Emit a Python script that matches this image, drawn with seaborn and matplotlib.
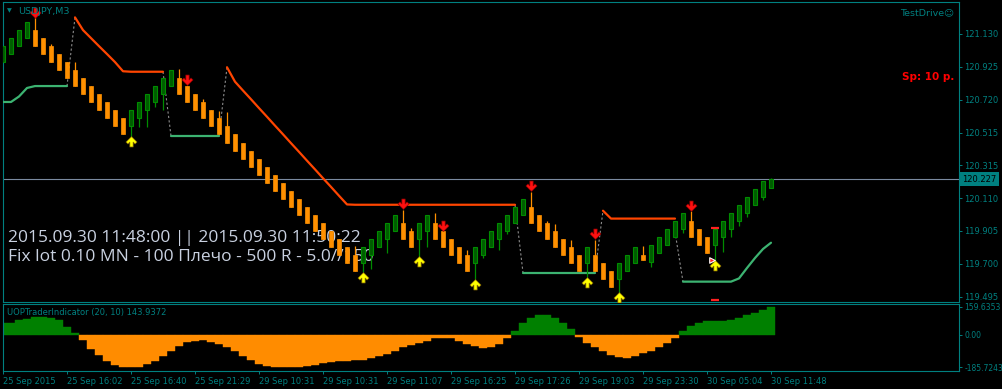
import numpy as np
import pandas as pd
import matplotlib
matplotlib.use("Agg")
import matplotlib.pyplot as plt
from matplotlib.path import Path
import seaborn as sns

# ------------------------------------------------------------------ data
bar_index = list(range(97))

opens = [120.955, 121.005, 121.055, 121.105, 121.155, 121.105, 121.055, 121.005, 120.955, 120.905,
         120.855, 120.805, 120.755, 120.705, 120.655, 120.605, 120.555, 120.605, 120.655, 120.705,
         120.755, 120.805, 120.855, 120.805, 120.755, 120.705, 120.655, 120.605, 120.555, 120.505,
         120.455, 120.405, 120.355, 120.305, 120.255, 120.205, 120.155, 120.105, 120.055, 120.005,
         119.955, 119.905, 119.855, 119.805, 119.755, 119.705, 119.755, 119.805, 119.855, 119.905,
         119.955, 119.905, 119.855, 119.905, 119.955, 119.905, 119.855, 119.805, 119.755, 119.705,
         119.755, 119.805, 119.855, 119.905, 119.955, 120.005, 120.055, 120.005, 119.955, 119.905,
         119.855, 119.805, 119.755, 119.705, 119.755, 119.705, 119.655, 119.605, 119.655, 119.705,
         119.755, 119.715, 119.765, 119.815, 119.865, 119.915, 119.965, 119.915, 119.865, 119.815,
         119.865, 119.915, 119.965, 120.015, 120.065, 120.115, 120.170]

closes = [121.055, 121.105, 121.155, 121.205, 121.055, 121.005, 120.955, 120.905, 120.855, 120.805,
          120.755, 120.705, 120.655, 120.605, 120.555, 120.505, 120.655, 120.705, 120.755, 120.805,
          120.855, 120.905, 120.755, 120.705, 120.655, 120.605, 120.555, 120.505, 120.455, 120.405,
          120.355, 120.305, 120.255, 120.205, 120.155, 120.105, 120.055, 120.005, 119.955, 119.905,
          119.855, 119.805, 119.755, 119.705, 119.655, 119.805, 119.855, 119.905, 119.955, 120.005,
          119.855, 119.805, 119.955, 120.005, 119.855, 119.805, 119.755, 119.705, 119.655, 119.805,
          119.855, 119.905, 119.955, 120.005, 120.055, 120.105, 119.955, 119.905, 119.855, 119.805,
          119.755, 119.705, 119.655, 119.805, 119.655, 119.605, 119.555, 119.705, 119.755, 119.805,
          119.725, 119.815, 119.865, 119.915, 119.965, 120.015, 119.865, 119.815, 119.765, 119.915,
          119.965, 120.015, 120.065, 120.115, 120.165, 120.215, 120.227]

highs = [121.055, 121.105, 121.155, 121.205, 121.235, 121.105, 121.067, 121.005, 120.955, 120.956,
         120.855, 120.805, 120.755, 120.705, 120.655, 120.605, 120.655, 120.705, 120.755, 120.805,
         120.855, 120.905, 120.912, 120.805, 120.755, 120.725, 120.655, 120.653, 120.645, 120.505,
         120.455, 120.405, 120.355, 120.305, 120.255, 120.205, 120.155, 120.105, 120.055, 120.005,
         119.955, 119.905, 119.855, 119.805, 119.812, 119.805, 119.855, 119.905, 119.955, 120.005,
         120.035, 119.924, 119.955, 120.005, 120.017, 119.905, 119.855, 119.805, 119.787, 119.805,
         119.855, 119.905, 119.955, 120.005, 120.055, 120.105, 120.147, 120.005, 119.965, 119.948,
         119.855, 119.849, 119.755, 119.805, 119.849, 119.705, 119.655, 119.705, 119.755, 119.805,
         119.812, 119.815, 119.865, 119.915, 119.965, 120.015, 120.029, 119.915, 119.865, 119.915,
         119.965, 120.015, 120.065, 120.115, 120.165, 120.215, 120.234]

lows = [120.955, 121.005, 121.055, 121.105, 121.055, 121.005, 120.955, 120.905, 120.855, 120.805,
        120.755, 120.705, 120.655, 120.605, 120.555, 120.505, 120.489, 120.553, 120.551, 120.676,
        120.657, 120.805, 120.755, 120.705, 120.655, 120.605, 120.555, 120.505, 120.455, 120.405,
        120.355, 120.305, 120.255, 120.205, 120.155, 120.105, 120.055, 120.005, 119.955, 119.905,
        119.855, 119.805, 119.755, 119.705, 119.655, 119.650, 119.669, 119.805, 119.768, 119.905,
        119.855, 119.805, 119.743, 119.805, 119.855, 119.805, 119.755, 119.705, 119.655, 119.607,
        119.737, 119.805, 119.787, 119.886, 119.955, 120.005, 119.955, 119.905, 119.855, 119.805,
        119.755, 119.705, 119.655, 119.619, 119.655, 119.605, 119.555, 119.519, 119.655, 119.705,
        119.725, 119.681, 119.765, 119.815, 119.865, 119.892, 119.865, 119.815, 119.765, 119.706,
        119.774, 119.868, 119.936, 119.992, 120.065, 120.097, 120.170]

# UOPTraderIndicator histogram
uop_values = [67, 67, 82, 89, 101, 101, 93, 82, 44, 10,
              -32, -82, -116, -150, -173, -186, -186, -182, -169, -150,
              -121, -93, -64, -42, -34, -28, -40, -52, -72, -95,
              -121, -144, -167, -176, -185, -185.7, -185, -182, -176, -173,
              -161, -156, -152, -150, -144, -144, -133, -121, -110, -91,
              -70, -59, -45, -36, -19, -17, -17, -36, -55, -67,
              -78, -70, -52, -17, 20, 67, 93, 112, 112, 93,
              67, 32, -13, -47, -72, -93, -116, -127, -131, -121,
              -106, -91, -72, -45, -17, 20, 48, 67, 78, 78,
              78, 84, 93, 112, 124, 141, 159.6]

# trailing stop lines: (first bar, values)
upper_starts = [9, 28, 75]
upper_values = [
    [121.233, 121.154, 121.104, 121.054, 121.005, 120.955, 120.898, 120.895, 120.895, 120.895, 120.895, 120.895],
    [120.923, 120.833, 120.778, 120.724, 120.669, 120.615, 120.560, 120.506, 120.451, 120.397, 120.342,
     120.288, 120.233, 120.179, 120.124, 120.070] + [120.068] * 21,
    [120.031, 119.982, 119.982, 119.982, 119.982, 119.982, 119.982, 119.982, 119.982, 119.982],
]
lower_starts = [0, 21, 65, 85]
lower_values = [
    [120.707, 120.707, 120.741, 120.794, 120.806, 120.806, 120.806, 120.806, 120.806],
    [120.496] * 7,
    [119.646] * 10,
    [119.590] * 7 + [119.610, 119.675, 119.737, 119.793, 119.832],
]
# dotted connectors between trailing segments (bar, price) pairs
link_bars = [(8, 9), (20, 21), (27, 28), (64, 65), (74, 75), (84, 85)]
link_prices = [(120.806, 121.233), (120.895, 120.496), (120.496, 120.923),
               (120.068, 119.646), (119.646, 120.031), (119.900, 119.590)]

# signal arrows
sell_bars = [4, 23, 50, 55, 66, 74, 86]
sell_prices = [121.260, 120.841, 120.074, 119.938, 120.187, 119.887, 120.058]
buy_bars = [16, 45, 52, 59, 73, 77, 89]
buy_prices = [120.463, 119.616, 119.717, 119.575, 119.588, 119.495, 119.692]

current_price = 120.227
price_ticks = [121.130, 120.925, 120.720, 120.515, 120.315, 120.110, 119.905, 119.700, 119.495]
uop_ticks = [159.6353, 0.0, -185.7243]
uop_tick_labels = ["159.6353", "0.00", "-185.7243"]
time_tick_bars = [0, 8, 16, 24, 32, 40, 48, 56, 64, 72, 80, 88, 96]
time_labels = ["25 Sep 2015", "25 Sep 16:02", "25 Sep 16:40", "25 Sep 21:29", "29 Sep 10:31",
               "29 Sep 10:31", "29 Sep 11:07", "29 Sep 16:25", "29 Sep 17:26", "29 Sep 19:03",
               "29 Sep 23:30", "30 Sep 05:04", "30 Sep 11:48"]

# ------------------------------------------------------------------ style
TEAL = "#008080"
GREEN_FACE = "#005C00"
GREEN_EDGE = "#008C00"
ORANGE = "#FF9000"
HIST_GREEN = "#008000"
HIST_ORANGE = "#FF8C00"
UPPER = "#FF4500"
LOWER = "#3CB371"

sns.set_style("ticks", {"axes.facecolor": "black", "figure.facecolor": "black",
                        "axes.edgecolor": TEAL, "axes.grid": False})
plt.rcParams["font.family"] = ["DejaVu Sans"]

W, H = 1002, 389
def fx(px):
    return px / W
def fy(py):
    return 1 - py / H

fig = plt.figure(figsize=(W / 100, H / 100), dpi=100, facecolor="black")
ax = fig.add_axes([fx(2.5), fy(301.7), fx(959) - fx(2.5), fy(2.3) - fy(301.7)])
ax2 = fig.add_axes([fx(2.5), fy(371), fx(959) - fx(2.5), fy(304) - fy(371)], sharex=ax)

for a in (ax, ax2):
    a.set_facecolor("black")
    for s in a.spines.values():
        s.set_color(TEAL)
        s.set_linewidth(0.8)

k = np.array(bar_index, dtype=float)
o = np.array(opens)
c = np.array(closes)
hi = np.array(highs)
lo = np.array(lows)
up = c >= o

# current price line
ax.axhline(current_price, color="#7A8AA0", lw=0.8, zorder=1)

# trailing lines (seaborn)
def seg_frame(starts, values):
    rows = []
    for sid, (s0, vals) in enumerate(zip(starts, values)):
        for i, v in enumerate(vals):
            rows.append((sid, s0 + i, v))
    return pd.DataFrame(rows, columns=["seg", "bar", "price"])

df_up = seg_frame(upper_starts, upper_values)
df_lo = seg_frame(lower_starts, lower_values)
sns.lineplot(data=df_up, x="bar", y="price", units="seg", estimator=None, sort=False,
             color=UPPER, lw=1.6, ax=ax, legend=False, zorder=3)
sns.lineplot(data=df_lo, x="bar", y="price", units="seg", estimator=None, sort=False,
             color=LOWER, lw=1.6, ax=ax, legend=False, zorder=3)
link_rows = []
for sid, (bb, pp) in enumerate(zip(link_bars, link_prices)):
    link_rows += [(sid, bb[0], pp[0]), (sid, bb[1], pp[1])]
df_link = pd.DataFrame(link_rows, columns=["seg", "bar", "price"])
sns.lineplot(data=df_link, x="bar", y="price", units="seg", estimator=None, sort=False,
             color="#8C8C8C", lw=0.8, linestyle=(0, (2, 2)), ax=ax, legend=False, zorder=2)

# candles
ax.vlines(k[up], lo[up], hi[up], color=GREEN_EDGE, lw=0.9, zorder=4)
ax.vlines(k[~up], lo[~up], hi[~up], color=ORANGE, lw=0.9, zorder=4)
ax.bar(k[up], (c - o)[up], bottom=o[up], width=0.58, color=GREEN_FACE,
       edgecolor=GREEN_EDGE, linewidth=0.8, zorder=5)
ax.bar(k[~up], (o - c)[~up], bottom=c[~up], width=0.62, color=ORANGE,
       edgecolor=ORANGE, linewidth=0.5, zorder=5)

# arrows
down_verts = [(-0.3, 1.0), (0.3, 1.0), (0.3, 0.1), (0.65, 0.45), (1.0, 0.1), (0.0, -0.9),
              (-1.0, 0.1), (-0.65, 0.45), (-0.3, 0.1), (-0.3, 1.0)]
down_path = Path(down_verts, closed=True)
up_path = Path([(x, -y) for x, y in down_verts], closed=True)
ax.scatter(sell_bars, sell_prices, marker=down_path, s=62, color="#FF1010",
           edgecolors="#900000", linewidths=0.5, zorder=7)
ax.scatter(buy_bars, buy_prices, marker=up_path, s=62, color="#FFFF00",
           edgecolors="#8A6A00", linewidths=0.5, zorder=7)
# trade marks on bar 89
ax.scatter([89, 89], [119.922, 119.476], marker="_", s=30, color="#FF2020", linewidths=1.6, zorder=7)
ax.scatter([88.65], [119.724], marker=">", s=16, color="#FF2020", edgecolors="white",
           linewidths=0.8, zorder=8)

ax.set_xlim(-0.0625, 119.5)
ax.set_ylim(119.4653, 121.3267)
ax.set_xlabel("")
ax.set_ylabel("")
ax.yaxis.tick_right()
ax.set_yticks(price_ticks)
ax.set_yticklabels([f"{v:.3f}" for v in price_ticks])
ax.tick_params(axis="y", which="both", right=True, left=False, colors=TEAL, labelcolor=TEAL,
               labelsize=6, length=2.5, width=0.7, pad=1.5)
ax.tick_params(axis="x", bottom=False, labelbottom=False, top=False)

# histogram panel
hv = np.array(uop_values)
colors = [HIST_GREEN if v >= 0 else HIST_ORANGE for v in hv]
ax2.bar(k, hv, width=1.0, color=colors, edgecolor=colors, linewidth=0.3, zorder=2)
ax2.set_ylim(-207, 175)
ax2.set_xlabel("")
ax2.set_ylabel("")
ax2.yaxis.tick_right()
ax2.set_yticks(uop_ticks)
ax2.set_yticklabels(uop_tick_labels)
ax2.tick_params(axis="y", right=True, left=False, colors=TEAL, labelcolor=TEAL,
                labelsize=5.5, length=2.5, width=0.7, pad=1.2)
ax2.set_xticks(time_tick_bars)
ax2.set_xticklabels(time_labels, ha="left")
ax2.tick_params(axis="x", bottom=True, colors=TEAL, labelcolor=TEAL, labelsize=6,
                length=2.5, width=0.7, pad=1.5)
ax2.set_xlim(-0.0625, 119.5)

# ------------------------------------------------------------------ texts
tf = fig.transFigure
ax.text(fx(9.3), fy(11), "\u25BC", transform=tf, ha="center", va="center", fontsize=4.5, color=TEAL, zorder=9)
ax.text(fx(18.3), fy(14), "USDJPY,M3", transform=tf, ha="left", va="baseline", fontsize=6.8, color=TEAL, zorder=9)
ax.text(fx(954), fy(15.3), "TestDrive\u263A", transform=tf, ha="right", va="baseline", fontsize=6.8, color=TEAL, zorder=9)
ax.text(fx(954), fy(80), "Sp: 10 p.", transform=tf, ha="right", va="baseline", fontsize=7.5,
        color="#FF0000", fontweight="bold", zorder=9)
big_font = ["Open Sans", "DejaVu Sans"]
ax.text(fx(8.3), fy(241.7), "2015.09.30 11:48:00 || 2015.09.30 11:50:22", transform=tf,
        ha="left", va="baseline", fontsize=12.5, color="#C9D1E0", family=big_font, zorder=1.5)
ax.text(fx(8.3), fy(261), "Fix lot 0.10 MN - 100 \u041f\u043b\u0435\u0447\u043e - 500 R - 5.0//150", transform=tf,
        ha="left", va="baseline", fontsize=12.5, color="#C9D1E0", family=big_font, zorder=1.5)
ax2.text(fx(7.3), fy(315), "UOPTraderIndicator (20, 10) 143.9372", transform=tf, ha="left",
         va="baseline", fontsize=6, color=TEAL, zorder=9)
fig.text(fx(962), fy(179.5), f"{current_price:.3f}", ha="left", va="center", fontsize=6,
         color="black", bbox=dict(boxstyle="square,pad=0.3", fc=TEAL, ec="none"))

fig.savefig("out.png", dpi=100, facecolor="black")
